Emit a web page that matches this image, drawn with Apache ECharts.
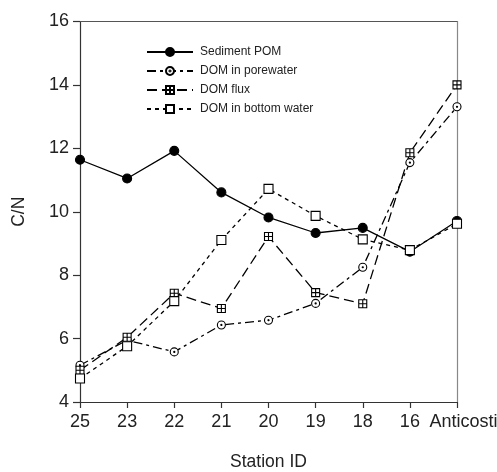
<!DOCTYPE html>
<html>
<head>
<meta charset="utf-8">
<script src="https://cdn.jsdelivr.net/npm/echarts@6/dist/echarts.min.js"></script>
<style>
  html, body { margin: 0; padding: 0; background: #fff; }
  #chart { width: 497px; height: 472px; }
</style>
</head>
<body>
<div id="chart"></div>
<script>
// Station order along the transect
const stations = ['25', '23', '22', '21', '20', '19', '18', '16', 'Anticosti'];

// C/N ratios per station
const sedimentPOM = [11.64, 11.05, 11.92, 10.61, 9.82, 9.33, 9.49, 8.74, 9.71];
const domPorewater = [5.16, 5.95, 5.58, 6.43, 6.58, 7.11, 8.25, 11.55, 13.31];
const domFlux = [5.0, 6.04, 7.43, 6.95, 9.22, 7.45, 7.10, 11.86, 14.0];
const domBottomWater = [4.74, 5.76, 7.18, 9.11, 10.72, 9.87, 9.13, 8.79, 9.62];

const seriesNames = ['Sediment POM', 'DOM in porewater', 'DOM flux', 'DOM in bottom water'];

const FONT = '"Liberation Sans", Arial, sans-serif';

// Open circle with a centre dot, and a square split by a cross
const dotCircle = 'path://M10,0A10,10 0 1,1 9.99,0Z M10,8.6A1.4,1.4 0 1,1 9.99,8.6Z';
const crossSquare = 'path://M0,0H20V20H0Z M10,0V20 M0,10H20';

// The last station name sits a little to the right of its tick
const categoryData = stations.map(function (s, i) {
  return i === stations.length - 1
    ? { value: s, textStyle: { padding: [0, 0, 0, 13] } }
    : s;
});

const chart = echarts.init(document.getElementById('chart'), null, { renderer: 'canvas' });

function lineSeries(name, data, symbol, size, fill, dash) {
  return {
    name: name,
    type: 'line',
    data: data,
    symbol: symbol,
    symbolSize: size,
    showAllSymbol: true,
    xAxisIndex: 0,
    yAxisIndex: 0,
    lineStyle: { color: '#000', width: 1.3, type: dash },
    itemStyle: { color: fill, borderColor: '#000', borderWidth: 1.1 },
    emphasis: { disabled: true },
    animation: false
  };
}

chart.setOption({
  animation: false,
  backgroundColor: '#fff',
  grid: { left: 80, right: 40, top: 21.5, bottom: 70, containLabel: false, outerBoundsMode: 'none' },
  legend: {
    orient: 'vertical',
    left: 141,
    top: 41,
    itemWidth: 46,
    itemHeight: 10,
    itemGap: 7,
    data: seriesNames,
    textStyle: { fontFamily: FONT, fontSize: 12, color: '#222', padding: [0, 0, 0, 2] }
  },
  xAxis: [{
    type: 'category',
    data: categoryData,
    boundaryGap: false,
    name: 'Station ID',
    nameLocation: 'middle',
    nameGap: 51,
    nameTextStyle: { fontFamily: FONT, fontSize: 17.5, color: '#222' },
    axisLine: { lineStyle: { color: '#333', width: 1.2 } },
    axisTick: { show: true, inside: false, length: 6, alignWithLabel: true, lineStyle: { color: '#333', width: 1.2 } },
    axisLabel: { fontFamily: FONT, fontSize: 18, color: '#222', margin: 11, interval: 0 },
    splitLine: { show: false }
  }, {
    type: 'category',
    data: stations,
    boundaryGap: false,
    position: 'top',
    axisLine: { lineStyle: { color: '#555', width: 1.2 } },
    axisTick: { show: false },
    axisLabel: { show: false },
    splitLine: { show: false }
  }],
  yAxis: [{
    type: 'value',
    min: 4,
    max: 16,
    interval: 2,
    name: 'C/N',
    nameLocation: 'middle',
    nameGap: 52,
    nameTextStyle: { fontFamily: FONT, fontSize: 17.5, color: '#222' },
    axisLine: { show: true, lineStyle: { color: '#333', width: 1.2 } },
    axisTick: { show: true, inside: false, length: 7, lineStyle: { color: '#333', width: 1.2 } },
    axisLabel: { fontFamily: FONT, fontSize: 18, color: '#222', margin: 11 },
    splitLine: { show: false }
  }, {
    type: 'value',
    min: 4,
    max: 16,
    interval: 2,
    position: 'right',
    axisLine: { show: true, lineStyle: { color: '#888', width: 1.2 } },
    axisTick: { show: false },
    axisLabel: { show: false },
    splitLine: { show: false }
  }],
  series: [
    lineSeries(seriesNames[0], sedimentPOM, 'circle', 9, '#000', 'solid'),
    lineSeries(seriesNames[1], domPorewater, dotCircle, 8, '#fff', [9, 4, 3, 4]),
    lineSeries(seriesNames[2], domFlux, crossSquare, 8, '#fff', [10, 5]),
    lineSeries(seriesNames[3], domBottomWater, 'rect', 9, '#fff', [4, 4])
  ]
});
</script>
</body>
</html>
